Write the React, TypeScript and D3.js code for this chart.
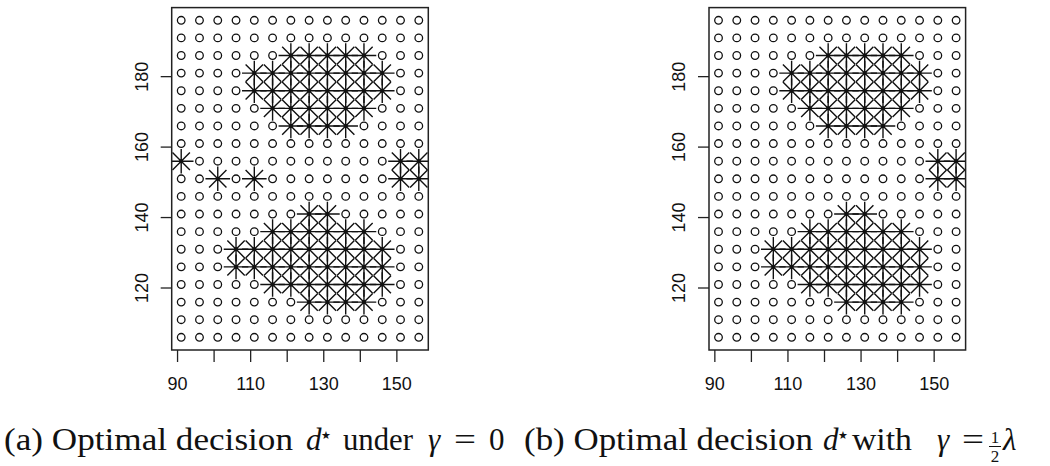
import * as d3 from 'd3';
import { useEffect, useRef } from 'react';

// grid of candidate points
const xGrid = [91, 96, 101, 106, 111, 116, 121, 126, 131, 136, 141, 146, 151, 156];
const yGrid = [106, 111, 116, 121, 126, 131, 136, 141, 146, 151, 156, 161, 166, 171, 176, 181, 186, 191, 196];

const xTicks = [90, 100, 110, 120, 130, 140, 150];
const xTickLabels = ['90', '', '110', '', '130', '', '150'];
const yTicks = [120, 140, 160, 180];
const yTickLabels = ['120', '140', '160', '180'];

// points where d* = 1 (drawn as stars), panel (b)
const starRowsB = [
  { y: 186, xs: [121, 126, 131, 136, 141] },
  { y: 181, xs: [111, 116, 121, 126, 131, 136, 141, 146] },
  { y: 176, xs: [111, 116, 121, 126, 131, 136, 141, 146] },
  { y: 171, xs: [116, 121, 126, 131, 136, 141] },
  { y: 166, xs: [121, 126, 131, 136] },
  { y: 156, xs: [151, 156] },
  { y: 151, xs: [151, 156] },
  { y: 141, xs: [126, 131] },
  { y: 136, xs: [116, 121, 126, 131, 136, 141] },
  { y: 131, xs: [106, 111, 116, 121, 126, 131, 136, 141, 146] },
  { y: 126, xs: [106, 111, 116, 121, 126, 131, 136, 141, 146] },
  { y: 121, xs: [116, 121, 126, 131, 136, 141, 146] },
  { y: 116, xs: [126, 131, 136, 141] },
];
// panel (a) has a few isolated extra stars
const extraStarRowsA = [
  { y: 156, xs: [91] },
  { y: 151, xs: [101, 111] },
];

type Row = { y: number; xs: number[] };
const toPoints = (rows: Row[]) => rows.flatMap(r => r.xs.map(x => [x, r.y] as [number, number]));

const App = () => {
  const ref = useRef<SVGSVGElement | null>(null);

  useEffect(() => {
    if (!ref.current) return;
    const svg = d3.select(ref.current);
    svg.selectAll('*').remove();

    const panels = [
      { id: 'a', offset: 0, stars: toPoints([...starRowsB, ...extraStarRowsA]) },
      { id: 'b', offset: 537.3, stars: toPoints(starRowsB) },
    ];

    // R style 4% axis extension
    const [x0, x1] = d3.extent(xGrid) as [number, number];
    const [y0, y1] = d3.extent(yGrid) as [number, number];
    const px = (x1 - x0) * 0.04;
    const py = (y1 - y0) * 0.04;

    const font = 'Liberation Sans, Arial, sans-serif';

    panels.forEach(p => {
      const left = 171.7 + p.offset;
      const right = 428.3 + p.offset;
      const top = 7.6;
      const bottom = 350;
      const x = d3.scaleLinear().domain([x0 - px, x1 + px]).range([left, right]);
      const y = d3.scaleLinear().domain([y0 - py, y1 + py]).range([bottom, top]);

      const g = svg.append('g');
      g.append('clipPath').attr('id', 'clip-' + p.id)
        .append('rect')
        .attr('x', left).attr('y', top)
        .attr('width', right - left).attr('height', bottom - top);

      const plot = g.append('g').attr('clip-path', `url(#clip-${p.id})`);
      const isStar = new Set(p.stars.map(d => d[0] + ',' + d[1]));
      const circles = xGrid.flatMap(xv => yGrid.map(yv => [xv, yv] as [number, number]))
        .filter(d => !isStar.has(d[0] + ',' + d[1]));

      plot.selectAll('circle.o')
        .data(circles).enter()
        .append('circle')
        .attr('class', 'o')
        .attr('cx', d => x(d[0]))
        .attr('cy', d => y(d[1]))
        .attr('r', 3.8)
        .attr('fill', 'none')
        .attr('stroke', '#111')
        .attr('stroke-width', 1.3);

      const a = 8.7; // diagonal half size (R pch 8)
      const b = a * Math.SQRT2;
      const star = `M${-a},${-a}L${a},${a}M${-a},${a}L${a},${-a}M${-b},0L${b},0M0,${-b}L0,${b}`;
      plot.selectAll('path.star')
        .data(p.stars).enter()
        .append('path')
        .attr('class', 'star')
        .attr('transform', d => `translate(${x(d[0])},${y(d[1])})`)
        .attr('d', star)
        .attr('fill', 'none')
        .attr('stroke', '#111')
        .attr('stroke-width', 1.4);
      plot.selectAll('circle.dot')
        .data(p.stars).enter()
        .append('circle')
        .attr('class', 'dot')
        .attr('cx', d => x(d[0]))
        .attr('cy', d => y(d[1]))
        .attr('r', 2)
        .attr('fill', '#111');

      // box
      g.append('rect')
        .attr('x', left).attr('y', top)
        .attr('width', right - left).attr('height', bottom - top)
        .attr('fill', 'none')
        .attr('stroke', '#222')
        .attr('stroke-width', 1.5);

      // x axis
      const xa = g.append('g');
      xa.selectAll('line')
        .data(xTicks).enter()
        .append('line')
        .attr('x1', d => x(d)).attr('x2', d => x(d))
        .attr('y1', bottom).attr('y2', bottom + 12)
        .attr('stroke', '#222').attr('stroke-width', 1.3);
      xa.selectAll('text')
        .data(xTicks).enter()
        .append('text')
        .attr('x', d => x(d))
        .attr('y', 389.5)
        .attr('text-anchor', 'middle')
        .attr('font-family', font)
        .attr('font-size', 18)
        .attr('fill', '#111')
        .text((d, i) => xTickLabels[i]);

      // y axis
      const ya = g.append('g');
      ya.selectAll('line')
        .data(yTicks).enter()
        .append('line')
        .attr('x1', left - 11).attr('x2', left)
        .attr('y1', d => y(d)).attr('y2', d => y(d))
        .attr('stroke', '#222').attr('stroke-width', 1.3);
      ya.selectAll('text')
        .data(yTicks).enter()
        .append('text')
        .attr('transform', d => `translate(${left - 24},${y(d)}) rotate(-90)`)
        .attr('text-anchor', 'middle')
        .attr('font-family', font)
        .attr('font-size', 18)
        .attr('fill', '#111')
        .text((d, i) => yTickLabels[i]);
    });

    // captions
    const serif = 'Liberation Serif, Times New Roman, DejaVu Serif, serif';
    const cap = svg.append('g').attr('fill', '#111');
    const base = 449.5;
    const seg = (t: string, xp: number, opts: { w?: number; it?: boolean; fs?: number; yy?: number; anchor?: string; ff?: string } = {}) => {
      const el = cap.append('text')
        .attr('x', xp)
        .attr('y', opts.yy ?? base)
        .attr('font-family', opts.ff ?? serif)
        .attr('font-size', opts.fs ?? 31)
        .attr('font-style', opts.it ? 'italic' : 'normal')
        .attr('text-anchor', opts.anchor ?? 'start')
        .text(t);
      if (opts.w) el.attr('textLength', opts.w).attr('lengthAdjust', 'spacingAndGlyphs');
    };
    const starFont = 'DejaVu Sans, sans-serif';

    seg('(a) Optimal decision', 4, { w: 289 });
    seg('d', 306, { it: true });
    seg('\u2605', 321, { fs: 11, yy: 439, ff: starFont });
    seg('under', 343, { w: 70 });
    seg('\u03b3', 428, { it: true });
    seg('=', 454, { w: 22 });
    seg('0', 489);

    seg('(b) Optimal decision', 524, { w: 289 });
    seg('d', 823, { it: true });
    seg('\u2605', 838, { fs: 11, yy: 439, ff: starFont });
    seg('with', 852, { w: 60 });
    seg('\u03b3', 937, { it: true });
    seg('=', 962, { w: 22 });
    seg('1', 995, { fs: 17, yy: 443, anchor: 'middle' });
    cap.append('line')
      .attr('x1', 989).attr('x2', 1001)
      .attr('y1', 446.5).attr('y2', 446.5)
      .attr('stroke', '#111').attr('stroke-width', 1);
    seg('2', 995, { fs: 17, yy: 462, anchor: 'middle' });
    seg('\u03bb', 1003, { it: true });
  }, []);

  return (
    <svg
      ref={ref}
      width={1050}
      height={466}
      style={{ position: 'absolute', left: 0, top: 0, background: '#fff' }}
    />
  );
};

export default App;
